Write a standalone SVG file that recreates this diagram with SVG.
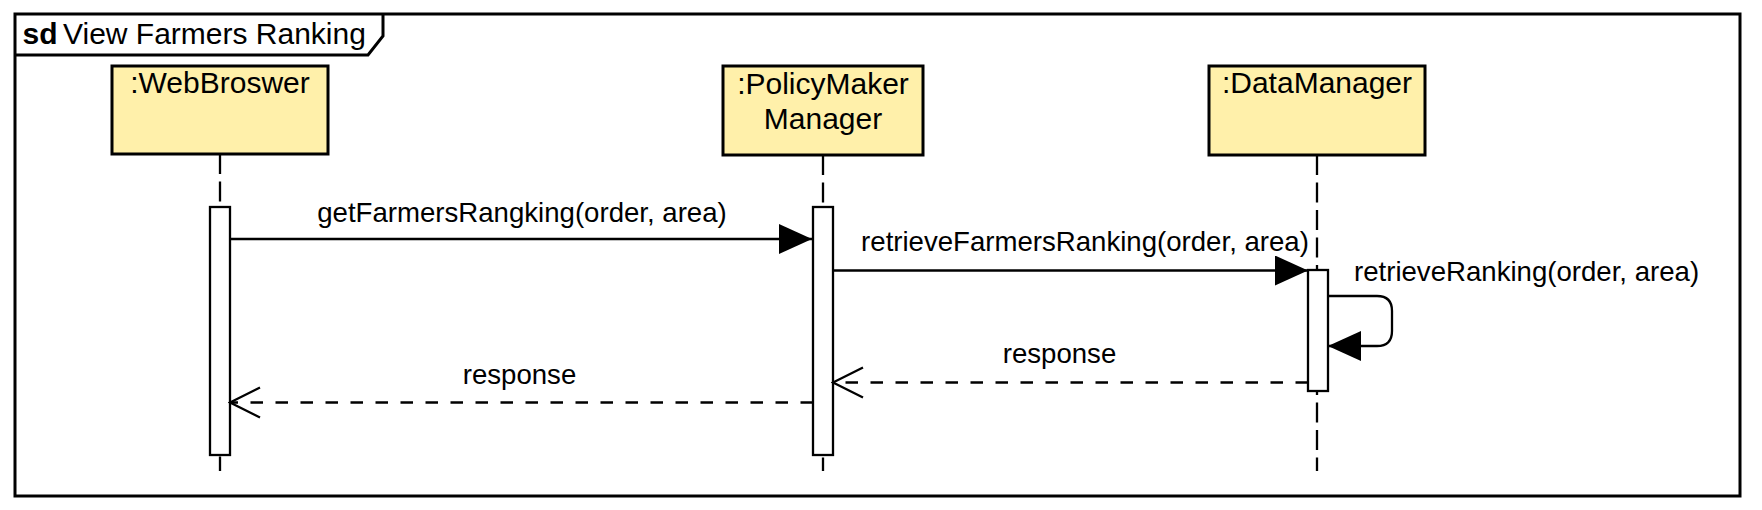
<svg xmlns="http://www.w3.org/2000/svg" width="1762" height="510" viewBox="0 0 1762 510">
<style>
text{font-family:"Liberation Sans",Arial,sans-serif;fill:#000}
.node rect.box{fill:#fff0aa;stroke:#000;stroke-width:3}
.lbl{font-size:30px;text-anchor:middle}
.life{stroke:#000;stroke-width:2.3;stroke-dasharray:20 7.5;fill:none}
.act{fill:#fff;stroke:#000;stroke-width:2.3}
.msg{stroke:#000;stroke-width:2.3;fill:none}
.ret{stroke:#000;stroke-width:2.3;fill:none;stroke-dasharray:12.5 12.5}
.ml{font-size:27.6px;text-anchor:middle}
</style>
<defs>
<marker id="filled" viewBox="0 0 33 30" refX="33" refY="15" markerWidth="33" markerHeight="30" markerUnits="userSpaceOnUse" orient="auto">
<path d="M0,0 L33,15 L0,30 Z" fill="#000"/>
</marker>
<marker id="open" viewBox="-2 -2 34 34" refX="30" refY="15" markerWidth="34" markerHeight="34" markerUnits="userSpaceOnUse" orient="auto">
<path d="M0,0 L30,15 L0,30" fill="none" stroke="#000" stroke-width="2.3"/>
</marker>
</defs>
<rect x="0" y="0" width="1762" height="510" fill="#fff"/>
<g id="frame">
<rect x="15" y="14" width="1725" height="482" fill="none" stroke="#000" stroke-width="3"/>
<path d="M15,55 L368,55 L383,36 L383,14" fill="none" stroke="#000" stroke-width="3"/>
<text x="22.5" y="44" font-size="30" font-weight="bold">sd</text>
<text x="63" y="44" font-size="30">View Farmers Ranking</text>
</g>
<g id="webbroswer" class="node">
<line class="life" x1="220" y1="154" x2="220" y2="471"/>
<rect class="box" x="112" y="66" width="216" height="88"/>
<text class="lbl" x="220" y="93">:WebBroswer</text>
<rect class="act" x="210" y="207" width="20" height="248"/>
</g>
<g id="policymaker" class="node">
<line class="life" x1="823" y1="155" x2="823" y2="471"/>
<rect class="box" x="723" y="66" width="200" height="89"/>
<text class="lbl" x="823" y="94">:PolicyMaker</text>
<text class="lbl" x="823" y="129">Manager</text>
<rect class="act" x="813" y="207" width="20" height="248"/>
</g>
<g id="datamanager" class="node">
<line class="life" x1="1317" y1="155" x2="1317" y2="471"/>
<rect class="box" x="1209" y="66" width="216" height="89"/>
<text class="lbl" x="1317" y="93">:DataManager</text>
<rect class="act" x="1308" y="270" width="20" height="121"/>
</g>
<g id="connectors">
<line class="msg" x1="230" y1="239" x2="812" y2="239" marker-end="url(#filled)"/>
<text class="ml" x="522" y="222">getFarmersRangking(order, area)</text>
<line class="msg" x1="833" y1="270.5" x2="1308" y2="270.5" marker-end="url(#filled)"/>
<text class="ml" x="1085" y="251">retrieveFarmersRanking(order, area)</text>
<path class="msg" d="M1328,296 L1377,296 Q1392,296 1392,311 L1392,331 Q1392,346 1377,346 L1328,346" marker-end="url(#filled)"/>
<text x="1354" y="281" font-size="27.6">retrieveRanking(order, area)</text>
<line class="ret" x1="1308" y1="382.5" x2="833" y2="382.5" marker-end="url(#open)"/>
<text class="ml" x="1059.5" y="363">response</text>
<line class="ret" x1="813" y1="402.5" x2="230" y2="402.5" marker-end="url(#open)"/>
<text class="ml" x="519.5" y="384">response</text>
</g>
</svg>
